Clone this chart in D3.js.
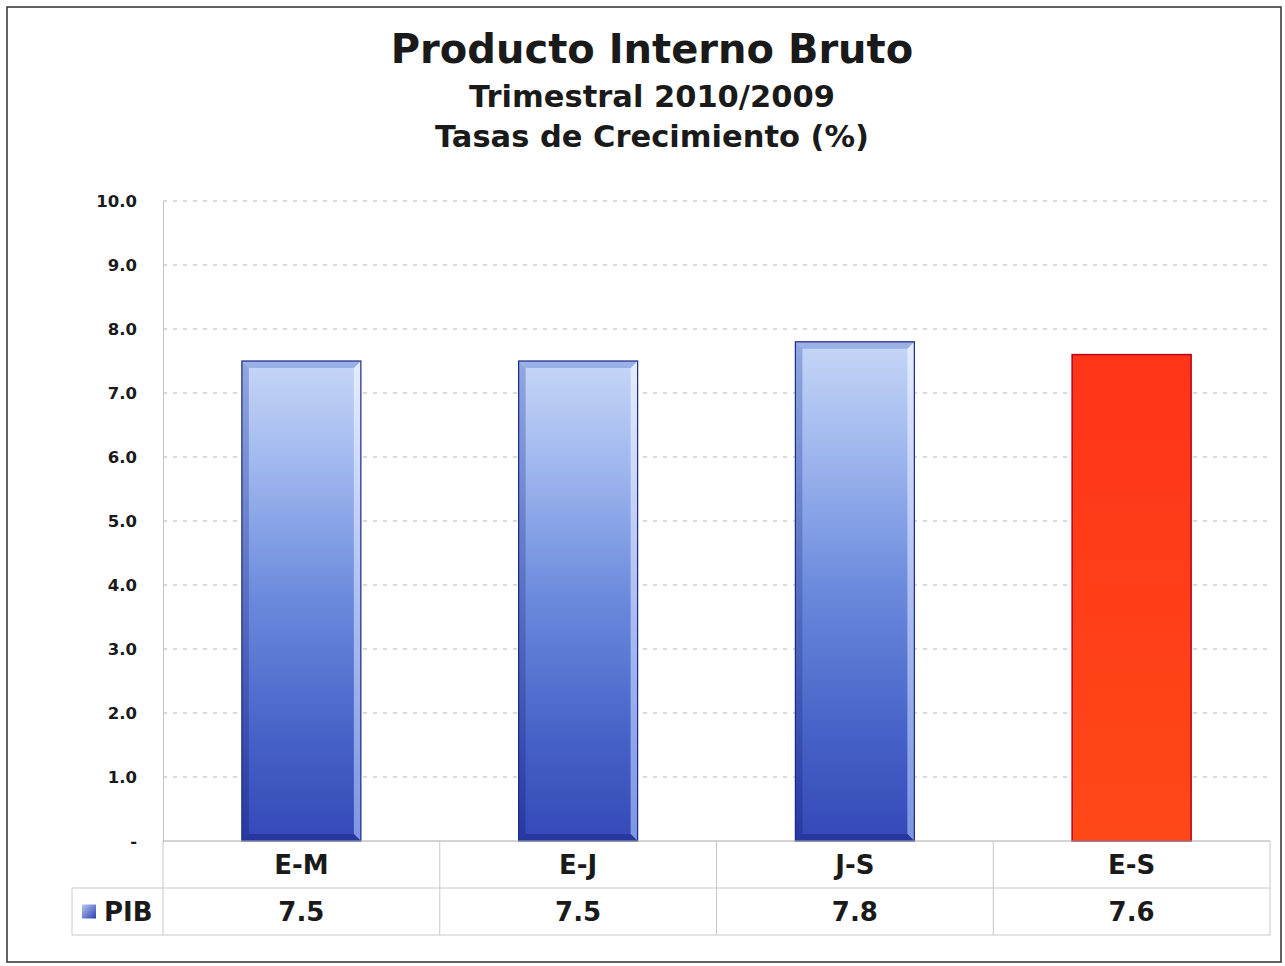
<!DOCTYPE html>
<html>
<head>
<meta charset="utf-8">
<script src="https://cdn.jsdelivr.net/npm/d3@7"></script>
<style>
  html, body { margin: 0; padding: 0; background: #ffffff; }
  svg { display: block; }
  text { font-family: "DejaVu Sans", Verdana, sans-serif; font-weight: bold; fill: #1a1a1a; }
</style>
</head>
<body>
<svg id="chart" width="1285" height="966"></svg>
<script>
// Quarterly GDP growth, 2010 vs 2009 (%)
const categories = ["E-M", "E-J", "J-S", "E-S"];
const values = [7.5, 7.5, 7.8, 7.6];
const seriesName = "PIB";
const highlighted = ["E-S"];          // drawn in red
const yTickValues = [0, 1, 2, 3, 4, 5, 6, 7, 8, 9, 10];
const titleLines = ["Producto Interno Bruto", "Trimestral 2010/2009", "Tasas de Crecimiento (%)"];

const svg = d3.select("#chart");

// plot area
const plot = { left: 163, right: 1270, top: 201, bottom: 841 };
const rowH = 47;

const x = d3.scaleBand().domain(categories).range([plot.left, plot.right]).padding(0);
const y = d3.scaleLinear().domain([0, 10]).range([plot.bottom, plot.top]);
const barW = x.bandwidth() * 0.43;

// gradients
const defs = svg.append("defs");
function vGrad(id, stops) {
  const g = defs.append("linearGradient").attr("id", id)
    .attr("x1", 0).attr("y1", 0).attr("x2", 0).attr("y2", 1);
  stops.forEach(([o, c]) => g.append("stop").attr("offset", o).attr("stop-color", c));
}
vGrad("blueBar", [[0, "#c6d6f6"], [0.22, "#9fb7ee"], [0.5, "#6a89dc"], [0.8, "#4560c6"], [1, "#3549b8"]]);
vGrad("blueEdgeL", [[0, "#7f98d8"], [1, "#22339a"]]);
vGrad("blueEdgeR", [[0, "#e9f0ff"], [1, "#8aa2ea"]]);
vGrad("redBar", [[0, "#ff3418"], [1, "#ff4818"]]);
const lg = defs.append("linearGradient").attr("id", "legendIcon")
  .attr("x1", 0).attr("y1", 0).attr("x2", 1).attr("y2", 1);
lg.append("stop").attr("offset", 0).attr("stop-color", "#b8c8f2");
lg.append("stop").attr("offset", 1).attr("stop-color", "#2c40b0");

// outer frame
svg.append("rect").attr("x", 7).attr("y", 7).attr("width", 1274).attr("height", 955)
  .attr("fill", "#fff").attr("stroke", "#3c3c3c").attr("stroke-width", 1.6);

// titles
const title = svg.append("g").attr("text-anchor", "middle");
title.append("text").attr("x", 652).attr("y", 63).attr("font-size", 40).text(titleLines[0]);
title.append("text").attr("x", 652).attr("y", 107).attr("font-size", 30.5).text(titleLines[1]);
title.append("text").attr("x", 652).attr("y", 147).attr("font-size", 30.5).text(titleLines[2]);

// gridlines
svg.append("g").selectAll("line").data(yTickValues.filter(d => d > 0)).join("line")
  .attr("x1", plot.left).attr("x2", plot.right)
  .attr("y1", d => y(d)).attr("y2", d => y(d))
  .attr("stroke", "#b4b4b4").attr("stroke-width", 1).attr("stroke-dasharray", "4,6");

// y axis
const yAxis = d3.axisLeft(y).tickValues(yTickValues)
  .tickFormat(d => d === 0 ? "-" : d3.format(".1f")(d))
  .tickSize(0).tickPadding(26);
const gy = svg.append("g").attr("transform", `translate(${plot.left},0)`).call(yAxis);
gy.select(".domain").attr("stroke", "#c4c4c4");
gy.selectAll("text").attr("font-size", 16.5).attr("font-family", "DejaVu Sans, Verdana, sans-serif")
  .attr("font-weight", "bold").attr("fill", "#1a1a1a");

// bars
const bars = svg.append("g").selectAll("g").data(categories.map((c, i) => ({ c, v: values[i] }))).join("g");
bars.each(function (d) {
  const g = d3.select(this);
  const x0 = x(d.c) + (x.bandwidth() - barW) / 2;
  const y0 = y(d.v), h = y(0) - y(d.v);
  const red = highlighted.includes(d.c);
  if (red) {
    g.append("rect").attr("x", x0).attr("y", y0).attr("width", barW).attr("height", h)
      .attr("fill", "url(#redBar)").attr("stroke", "#b8001c").attr("stroke-width", 1.5);
  } else {
    const b = 7;
    g.append("rect").attr("x", x0).attr("y", y0).attr("width", barW).attr("height", h)
      .attr("fill", "url(#blueBar)");
    // bevel: left shadow, right highlight, top and bottom rims
    g.append("path").attr("fill", "url(#blueEdgeL)").attr("opacity", 0.75)
      .attr("d", `M${x0},${y0} L${x0 + b},${y0 + b} L${x0 + b},${y0 + h - b} L${x0},${y0 + h} Z`);
    g.append("path").attr("fill", "url(#blueEdgeR)").attr("opacity", 0.85)
      .attr("d", `M${x0 + barW},${y0} L${x0 + barW - b},${y0 + b} L${x0 + barW - b},${y0 + h - b} L${x0 + barW},${y0 + h} Z`);
    g.append("path").attr("fill", "#8ea6e4").attr("opacity", 0.8)
      .attr("d", `M${x0},${y0} L${x0 + barW},${y0} L${x0 + barW - b},${y0 + b} L${x0 + b},${y0 + b} Z`);
    g.append("path").attr("fill", "#24329a").attr("opacity", 0.8)
      .attr("d", `M${x0},${y0 + h} L${x0 + barW},${y0 + h} L${x0 + barW - b},${y0 + h - b} L${x0 + b},${y0 + h - b} Z`);
    g.append("rect").attr("x", x0).attr("y", y0).attr("width", barW).attr("height", h)
      .attr("fill", "none").attr("stroke", "#1c2a86").attr("stroke-width", 1.2);
  }
});

// data table below the plot
const tbl = svg.append("g");
const gridColor = "#c8c8c8";
const r0 = plot.bottom, r1 = r0 + rowH, r2 = r1 + rowH, legendLeft = 72;
tbl.append("line").attr("x1", plot.left).attr("x2", plot.right).attr("y1", r0).attr("y2", r0).attr("stroke", "#a8a8a8");
tbl.append("line").attr("x1", legendLeft).attr("x2", plot.right).attr("y1", r1).attr("y2", r1).attr("stroke", gridColor);
tbl.append("line").attr("x1", legendLeft).attr("x2", plot.right).attr("y1", r2).attr("y2", r2).attr("stroke", gridColor);
tbl.append("line").attr("x1", legendLeft).attr("x2", legendLeft).attr("y1", r1).attr("y2", r2).attr("stroke", gridColor);
const vBounds = categories.map(c => x(c)).concat([x(categories[categories.length - 1]) + x.bandwidth()]);
tbl.selectAll("line.v").data(vBounds).join("line").attr("class", "v")
  .attr("x1", d => d).attr("x2", d => d).attr("y1", r0).attr("y2", r2).attr("stroke", gridColor);

tbl.selectAll("text.cat").data(categories).join("text").attr("class", "cat")
  .attr("x", d => x(d) + x.bandwidth() / 2).attr("y", r0 + rowH / 2 + 9)
  .attr("text-anchor", "middle").attr("font-size", 26).text(d => d);
tbl.selectAll("text.val").data(values).join("text").attr("class", "val")
  .attr("x", (d, i) => x(categories[i]) + x.bandwidth() / 2).attr("y", r1 + rowH / 2 + 9)
  .attr("text-anchor", "middle").attr("font-size", 26).text(d => d3.format(".1f")(d));

// legend key
tbl.append("rect").attr("x", 82).attr("y", r1 + rowH / 2 - 7).attr("width", 14).attr("height", 14)
  .attr("fill", "url(#legendIcon)");
tbl.append("text").attr("x", 104).attr("y", r1 + rowH / 2 + 9).attr("font-size", 26).text(seriesName);
</script>
</body>
</html>
